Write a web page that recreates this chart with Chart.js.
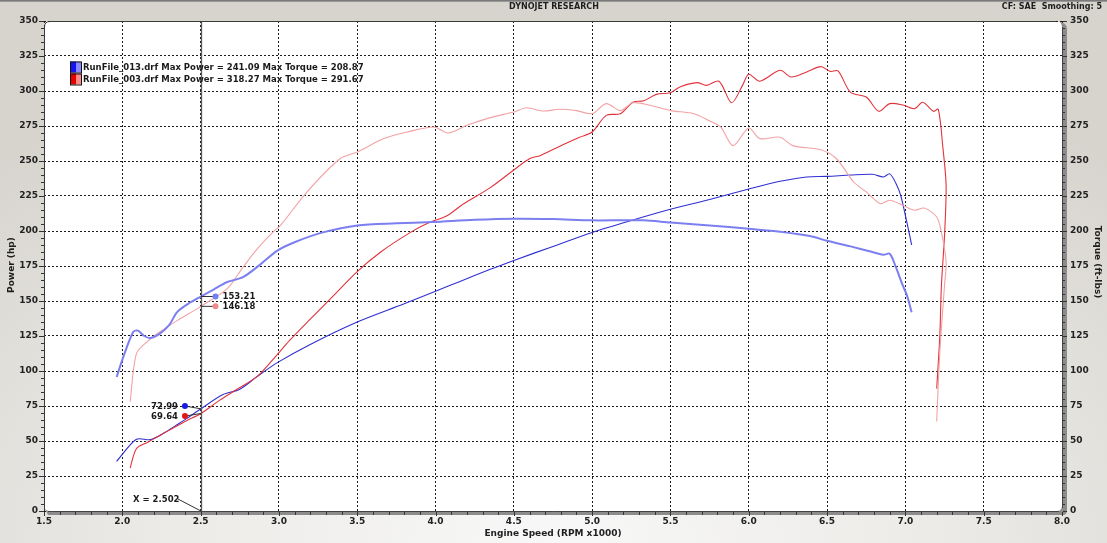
<!DOCTYPE html>
<html><head><meta charset="utf-8">
<script src="https://cdn.jsdelivr.net/npm/chart.js@4/dist/chart.umd.min.js"></script>
<style>
html,body{margin:0;padding:0;width:1107px;height:543px;overflow:hidden;}
body{background:radial-gradient(ellipse 75% 95% at 50% 100%, #f8f8f8 0%, #ecebe8 45%, #d7d4ce 100%);position:relative;}
#topline{position:absolute;left:0;top:0;width:1107px;height:2px;background:linear-gradient(#6a6a6a,#a8a8a8);}
#c{position:absolute;left:0;top:0;}
</style></head>
<body>
<div id="topline"></div>
<canvas id="c" width="1107" height="543"></canvas>
<script>
// ---------------- DATA ----------------
const xTickMin = 1.5, xTickMax = 8.0, xTickStep = 0.5;
const yTickMin = 0, yTickMax = 350, yTickStep = 25;

// RunFile_013 power (hp)
const run013PowerRpm = [1.964, 2.09, 2.18, 2.27, 2.34, 2.41, 2.502, 2.64, 2.75, 2.86, 2.99, 3.2, 3.5, 3.8, 4.0, 4.156, 4.35, 4.5, 4.75, 5.0, 5.25, 5.5, 5.75, 6.0, 6.2, 6.37, 6.5, 6.65, 6.79, 6.86, 6.90, 6.94, 6.97, 7.01, 7.04];
const run013PowerHp  = [35.5, 51.2, 51, 56, 61, 66, 72.99, 83, 87, 96, 106, 119, 135, 148, 157, 164, 172.6, 179, 189, 199, 207.5, 215.5, 222.5, 230, 235.5, 238.6, 239, 240, 240.5, 238.6, 240.8, 234, 225.5, 206, 190];
// RunFile_013 torque (ft-lbs)
const run013TorqueRpm = [1.964, 2.0, 2.07, 2.10, 2.14, 2.18, 2.24, 2.30, 2.35, 2.42, 2.502, 2.58, 2.67, 2.77, 2.88, 2.99, 3.1, 3.28, 3.5, 3.75, 3.98, 4.25, 4.5, 4.75, 5.0, 5.33, 5.5, 5.75, 6.0, 6.2, 6.39, 6.5, 6.65, 6.79, 6.86, 6.90, 6.94, 6.98, 7.01, 7.04];
const run013TorqueFt  = [95.7, 108, 128, 128.8, 125, 123.6, 126.7, 133, 142, 148, 153.21, 158, 163.6, 167, 176, 186, 192, 199, 204, 205.5, 206.4, 208, 208.8, 208.5, 207.6, 207.6, 206, 204, 201.6, 199.5, 196.4, 193, 189, 185, 183, 183.8, 174, 162, 154, 142];
// RunFile_003 power (hp)
const run003PowerRpm = [2.05, 2.09, 2.16, 2.24, 2.32, 2.41, 2.502, 2.62, 2.74, 2.86, 2.96, 3.07, 3.2, 3.35, 3.5, 3.65, 3.84, 3.96, 4.07, 4.18, 4.35, 4.51, 4.60, 4.67, 4.82, 4.92, 5.0, 5.09, 5.18, 5.26, 5.33, 5.41, 5.50, 5.56, 5.67, 5.73, 5.81, 5.89, 5.96, 6.0, 6.07, 6.2, 6.27, 6.37, 6.46, 6.52, 6.57, 6.65, 6.75, 6.83, 6.90, 6.99, 7.06, 7.11, 7.18, 7.21, 7.24, 7.26, 7.25, 7.23, 7.22, 7.20];
const run003PowerHp  = [30.7, 44.5, 49, 54, 59, 64.5, 69.64, 79, 87.5, 96, 108, 122, 137, 154, 171, 185, 199, 206, 210.7, 219.5, 231, 244.5, 251.6, 254, 262, 267, 270.7, 282.6, 283.8, 292, 293, 297.6, 298.8, 302.9, 306, 304, 307, 291.6, 304, 312, 307, 314.8, 310, 313.6, 317.4, 314, 314.3, 299, 295.7, 285.5, 291, 289.8, 287.4, 292, 285.5, 287, 259, 232.6, 197, 161, 125.5, 87.4];
// RunFile_003 torque (ft-lbs)
const run003TorqueRpm = [2.05, 2.09, 2.16, 2.24, 2.35, 2.502, 2.67, 2.77, 2.86, 2.96, 3.01, 3.18, 3.39, 3.5, 3.67, 3.82, 3.99, 4.08, 4.2, 4.35, 4.5, 4.58, 4.69, 4.79, 4.90, 5.0, 5.09, 5.18, 5.26, 5.37, 5.5, 5.65, 5.75, 5.82, 5.90, 6.0, 6.07, 6.2, 6.28, 6.46, 6.56, 6.67, 6.75, 6.84, 6.9, 6.99, 7.06, 7.12, 7.2, 7.23, 7.26, 7.25, 7.22, 7.20];
const run003TorqueFt  = [78, 112.4, 121, 128, 136, 146.18, 158.8, 174, 187, 199, 204, 228, 251.6, 256.4, 266, 270.7, 274.3, 270, 275.5, 281, 285, 288, 285.7, 287, 286, 283.8, 291, 286, 291.6, 289.8, 286, 283.8, 278.6, 274.3, 261, 273.6, 266, 267, 261, 258, 251.6, 235, 227.9, 219.5, 222, 218, 214.8, 216.4, 210, 199, 178, 161.4, 113.6, 64];

// Cursor readout
const cursorRpm = 2.502;
const cursorLabels = ['153.21', '146.18', '72.99', '69.64'];
const cursorValues = [153.21, 146.18, 72.99, 69.64];
const cursorDotRpm = [2.595, 2.595, 2.40, 2.40];
const cursorDotVal = [153.21, 146.18, 75.0, 67.8];

const legendRows = [
  'RunFile_013.drf Max Power = 241.09 Max Torque = 208.87',
  'RunFile_003.drf Max Power = 318.27 Max Torque = 291.67'
];

// ---------------- STYLE ----------------
const FONT = '"DejaVu Sans", Verdana, sans-serif';
const C013P = '#2f2fd2', C013T = '#7b7ff0', C003P = '#e2333c', C003T = '#f2a2a4';

function pts(xs, ys){ return xs.map((x,i)=>({x:x, y:ys[i]})); }

function rr(ctx,x,y,w,h,r){
  ctx.beginPath();
  ctx.moveTo(x+r,y); ctx.lineTo(x+w-r,y); ctx.quadraticCurveTo(x+w,y,x+w,y+r);
  ctx.lineTo(x+w,y+h-r); ctx.quadraticCurveTo(x+w,y+h,x+w-r,y+h);
  ctx.lineTo(x+r,y+h); ctx.quadraticCurveTo(x,y+h,x,y+h-r);
  ctx.lineTo(x,y+r); ctx.quadraticCurveTo(x,y,x+r,y); ctx.closePath();
}

const deco = {
  id:'deco',
  beforeDraw(chart){
    const {ctx, chartArea:a} = chart;
    ctx.save();
    ctx.fillStyle = '#ffffff';
    rr(ctx, a.left, a.top, a.right-a.left, a.bottom-a.top, 6);
    ctx.fill();
    ctx.restore();
  },
  afterDatasetsDraw(chart){
    const {ctx, chartArea:a, scales:{x, y}} = chart;
    ctx.save();
    // cursor line
    const cx = Math.round(x.getPixelForValue(cursorRpm)) + 0.5;
    ctx.strokeStyle = '#5a5a5a'; ctx.lineWidth = 1.3;
    ctx.beginPath(); ctx.moveTo(cx, a.top); ctx.lineTo(cx, a.bottom); ctx.stroke();
    // readouts
    const dotCols = ['#6f80f0', '#f08a8a', '#1a1ae0', '#e01818'];
    ctx.font = 'bold 8.5px ' + FONT;
    ctx.textBaseline = 'middle';
    for (let i=0;i<cursorValues.length;i++){
      const px = x.getPixelForValue(cursorRpm), py = y.getPixelForValue(cursorValues[i]);
      const dx = x.getPixelForValue(cursorDotRpm[i]), dy = y.getPixelForValue(cursorDotVal[i]);
      ctx.strokeStyle = '#333'; ctx.lineWidth = 1;
      ctx.beginPath(); ctx.moveTo(px, py); ctx.lineTo(dx, dy); ctx.stroke();
      ctx.fillStyle = dotCols[i];
      ctx.beginPath(); ctx.arc(dx, dy, 3, 0, Math.PI*2); ctx.fill();
      ctx.fillStyle = '#1a1a1a';
      if (cursorDotRpm[i] > cursorRpm){ ctx.textAlign='left'; ctx.fillText(cursorLabels[i], dx+7, dy+0.5); }
      else { ctx.textAlign='right'; ctx.fillText(cursorLabels[i], dx-7, dy+0.5); }
    }
    // X = label
    const bx = x.getPixelForValue(cursorRpm);
    ctx.textAlign='left'; ctx.fillStyle='#1a1a1a';
    ctx.fillText('X = ' + cursorRpm.toFixed(3), 133, a.bottom-11);
    ctx.strokeStyle='#333'; ctx.lineWidth=1;
    ctx.beginPath(); ctx.moveTo(178, a.bottom-12); ctx.lineTo(bx, a.bottom); ctx.stroke();
    ctx.restore();
  },
  afterDraw(chart){
    const {ctx, chartArea:a, scales:{x, y}} = chart;
    ctx.save();
    // left & top thin border
    ctx.strokeStyle = '#3a3a3a'; ctx.lineWidth = 1;
    ctx.beginPath();
    ctx.moveTo(a.left+0.5, a.bottom);
    ctx.lineTo(a.left+0.5, a.top+6);
    ctx.quadraticCurveTo(a.left+0.5, a.top+0.5, a.left+6, a.top+0.5);
    ctx.lineTo(a.right-6, a.top+0.5);
    ctx.stroke();
    // right & bottom thick gray border
    ctx.fillStyle = '#8c8c8c';
    ctx.beginPath();
    ctx.moveTo(a.right-6, a.top);
    ctx.quadraticCurveTo(a.right, a.top, a.right, a.top+6);
    ctx.lineTo(a.right, a.bottom-5);
    ctx.quadraticCurveTo(a.right, a.bottom, a.right-5, a.bottom);
    ctx.lineTo(a.left+5, a.bottom);
    ctx.quadraticCurveTo(a.left+3, a.bottom, a.left+1, a.bottom-2);
    ctx.lineTo(a.left+4, a.bottom+4);
    ctx.lineTo(a.right+1, a.bottom+4);
    ctx.quadraticCurveTo(a.right+5, a.bottom+4, a.right+5, a.bottom-1);
    ctx.lineTo(a.right+5, a.top+8);
    ctx.quadraticCurveTo(a.right+5, a.top+1, a.right-6, a.top);
    ctx.closePath();
    ctx.fill();
    ctx.strokeStyle = '#444'; ctx.lineWidth = 1;
    ctx.beginPath(); ctx.moveTo(a.right+0.5, a.top+6); ctx.lineTo(a.right+0.5, a.bottom-3); ctx.stroke();
    ctx.beginPath(); ctx.moveTo(a.left+4, a.bottom+0.5); ctx.lineTo(a.right-3, a.bottom+0.5); ctx.stroke();
    // minor/major ticks
    ctx.strokeStyle = '#333';
    for (let v = yTickMin; v <= yTickMax+0.01; v += 5){
      const py = Math.round(y.getPixelForValue(v))+0.5;
      const major = Math.abs(v % 25) < 0.01;
      ctx.beginPath(); ctx.moveTo(a.left - (major?5:3), py); ctx.lineTo(a.left, py); ctx.stroke();
      ctx.beginPath(); ctx.moveTo(a.right+1, py); ctx.lineTo(a.right + (major?5:3), py); ctx.stroke();
    }
    for (let v = xTickMin; v <= xTickMax+0.001; v += 0.1){
      const px = Math.round(x.getPixelForValue(v))+0.5;
      const major = Math.abs((v*10) % 5) < 0.01 || Math.abs((v*10) % 5 - 5) < 0.01;
      ctx.beginPath(); ctx.moveTo(px, a.bottom+1); ctx.lineTo(px, a.bottom + (major?5:4)); ctx.stroke();
    }
    // legend
    const sq = [[ '#1414f0', '#8a8aff' ], [ '#e40000', '#ff8a8a' ]];
    ctx.font = 'bold 8.5px ' + FONT; ctx.textBaseline = 'middle'; ctx.textAlign = 'left';
    for (let i=0;i<2;i++){
      const ty = 67 + i*12;
      ctx.fillStyle = sq[i][0]; ctx.fillRect(70, ty-5.5, 6, 11);
      ctx.fillStyle = sq[i][1]; ctx.fillRect(76, ty-5.5, 5, 11);
      ctx.strokeStyle = '#111'; ctx.strokeRect(70.5, ty-5, 11, 11);
      ctx.fillStyle = '#1a1a1a';
      ctx.fillText(legendRows[i], 83, ty+0.5);
    }
    // header
    ctx.font = 'bold 8px ' + FONT; ctx.fillStyle = '#1e1e1e';
    ctx.textAlign = 'center'; ctx.fillText('DYNOJET RESEARCH', 554, 7);
    ctx.textAlign = 'right'; ctx.fillText('CF: SAE  Smoothing: 5', 1102, 7);
    // axis titles
    ctx.font = 'bold 9px ' + FONT; ctx.textAlign='center';
    ctx.fillText('Engine Speed (RPM x1000)', 553, 534);
    ctx.save(); ctx.translate(12, 265); ctx.rotate(-Math.PI/2); ctx.fillText('Power (hp)', 0, 0); ctx.restore();
    ctx.save(); ctx.translate(1097, 262); ctx.rotate(Math.PI/2); ctx.fillText('Torque (ft-lbs)', 0, 0); ctx.restore();
    ctx.restore();
  }
};

const tickFont = {family: FONT, size: 9, weight: 'bold'};
new Chart(document.getElementById('c'), {
  type: 'line',
  data: {
    datasets: [
      {label:'RunFile_013 Torque', data: pts(run013TorqueRpm, run013TorqueFt), yAxisID:'y2', borderColor:C013T, borderWidth:2, pointRadius:0, tension:0.3, fill:false},
      {label:'RunFile_003 Torque', data: pts(run003TorqueRpm, run003TorqueFt), yAxisID:'y2', borderColor:C003T, borderWidth:1.1, pointRadius:0, tension:0.3, fill:false},
      {label:'RunFile_003 Power', data: pts(run003PowerRpm, run003PowerHp), yAxisID:'y', borderColor:C003P, borderWidth:1.1, pointRadius:0, tension:0.3, fill:false},
      {label:'RunFile_013 Power', data: pts(run013PowerRpm, run013PowerHp), yAxisID:'y', borderColor:C013P, borderWidth:1.1, pointRadius:0, tension:0.3, fill:false}
    ]
  },
  options: {
    responsive:false, animation:false, devicePixelRatio:1,
    layout:{padding:{top:21, left:0, right:0, bottom:0}},
    plugins:{legend:{display:false}, tooltip:{enabled:false}},
    scales:{
      x:{type:'linear', position:'bottom', min:xTickMin, max:xTickMax,
        ticks:{stepSize:xTickStep, callback:v=>Number(v).toFixed(1), color:'#222', font:tickFont, padding:5, maxRotation:0, autoSkip:false},
        grid:{color:'#1a1a1a', lineWidth:1, drawTicks:false},
        border:{display:false, dash:[2,2]},
        afterFit(s){ s.height = 32; }
      },
      y:{position:'left', min:yTickMin, max:yTickMax,
        ticks:{stepSize:yTickStep, color:'#222', font:tickFont, padding:6},
        grid:{color:'#1a1a1a', lineWidth:1, drawTicks:false},
        border:{display:false, dash:[2,2]},
        afterFit(s){ s.width = 44; }
      },
      y2:{position:'right', min:yTickMin, max:yTickMax,
        ticks:{stepSize:yTickStep, color:'#222', font:tickFont, padding:8},
        grid:{drawOnChartArea:false, drawTicks:false},
        border:{display:false},
        afterFit(s){ s.width = 45; }
      }
    }
  },
  plugins:[deco]
});
</script>
</body></html>
